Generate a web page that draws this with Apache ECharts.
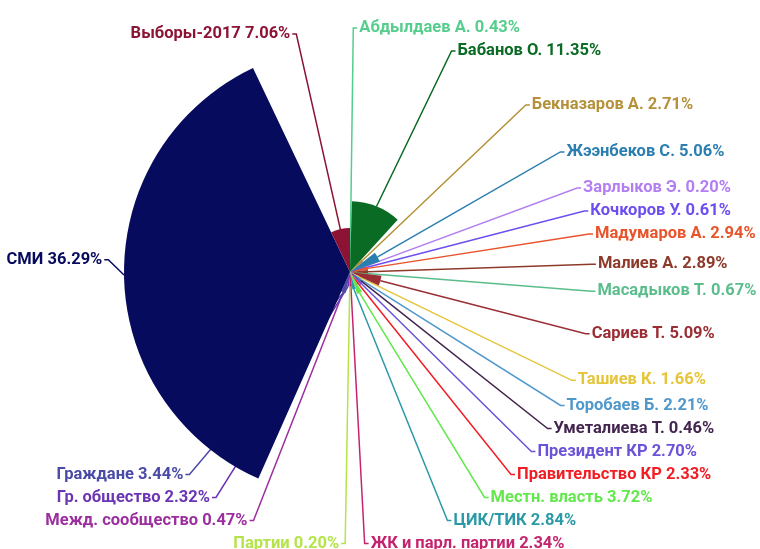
<!DOCTYPE html>
<html>
<head>
<meta charset="utf-8">
<script src="https://cdn.jsdelivr.net/npm/echarts@6/dist/echarts.min.js"></script>
<style>
  html, body { margin: 0; padding: 0; background: #fff; overflow: hidden; }
  body { width: 760px; height: 549px; position: relative; }
  #chart { position: absolute; left: 0; top: -10px; width: 760px; height: 565px; }
</style>
</head>
<body>
<div id="chart"></div>
<script>
const names = [
  'Абдылдаев А.', 'Бабанов О.', 'Бекназаров А.', 'Жээнбеков С.', 'Зарлыков Э.',
  'Кочкоров У.', 'Мадумаров А.', 'Малиев А.', 'Масадыков Т.', 'Сариев Т.',
  'Ташиев К.', 'Торобаев Б.', 'Уметалиева Т.', 'Президент КР', 'Правительство КР',
  'Местн. власть', 'ЦИК/ТИК', 'ЖК и парл. партии', 'Партии', 'Межд. сообщество',
  'Гр. общество', 'Граждане', 'СМИ', 'Выборы-2017'
];
const shares = [
  0.43, 11.35, 2.71, 5.06, 0.20,
  0.61, 2.94, 2.89, 0.67, 5.09,
  1.66, 2.21, 0.46, 2.70, 2.33,
  3.72, 2.84, 2.34, 0.20, 0.47,
  2.32, 3.44, 36.29, 7.06
];
const palette = [
  '#55cd8c', '#0a6b24', '#b5913a', '#2b7eb0', '#b27ef2',
  '#6e4ef0', '#e8542c', '#8e3a2a', '#5bbd8c', '#9a2e34',
  '#e5c53a', '#4f98cc', '#43264f', '#6c52d6', '#f21c24',
  '#62e84c', '#2c9aa6', '#c4246e', '#b4e44a', '#9b2f9e',
  '#6b34b4', '#4a4ba6', '#070b5e', '#8c1333'
];

const chart = echarts.init(document.getElementById('chart'));

const seriesData = names.map((name, i) => ({
  name: name,
  value: shares[i],
  itemStyle: { color: palette[i] },
  label: { color: palette[i] },
}));

chart.setOption({
  animation: false,
  series: [
    {
      type: 'pie',
      roseType: 'radius',
      center: [350, 282],
      radius: [0, 226],
      startAngle: 90,
      clockwise: true,
      avoidLabelOverlap: true,
      data: seriesData,
      label: {
        show: true,
        position: 'outside',
        fontFamily: 'Roboto',
        fontSize: 16.5,
        lineHeight: 21,
        fontWeight: 'bold',
        overflow: 'none',
        distanceToLabelLine: 2,
        formatter: (p) => p.name + ' ' + p.value.toFixed(2) + '%',
      },
      labelLine: {
        show: true,
        length: 18,
        length2: 4,
        lineStyle: { width: 1.5 },
      },
    },
  ],
});
</script>
</body>
</html>
